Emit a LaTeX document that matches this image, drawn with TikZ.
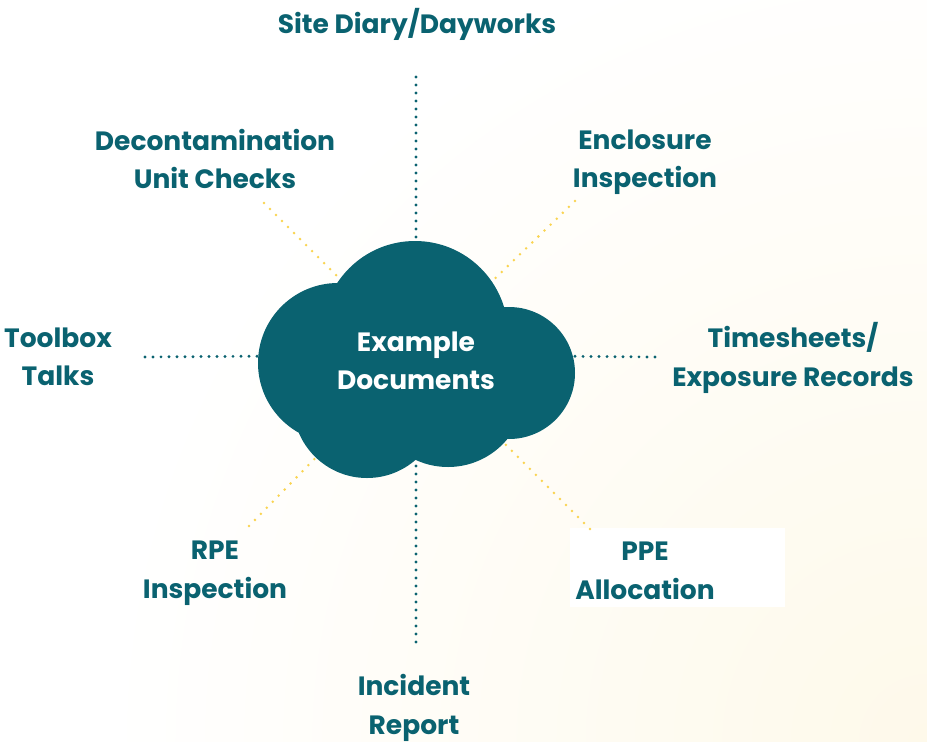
\documentclass[tikz,border=0pt]{standalone}
\usepackage{fontspec}
\setmainfont{Poppins}
\usepackage{xcolor}
\usetikzlibrary{positioning}
\definecolor{deepteal}{RGB}{10,98,112}
\definecolor{dotyellow}{RGB}{250,212,80}
\definecolor{cream}{RGB}{254,249,234}

\begin{document}
\begin{tikzpicture}[x=1pt, y=-1pt,
	itemtext/.style={text=deepteal, font=\bfseries\fontsize{26.5}{38.5}\selectfont, align=center},
	tealdots/.style={deepteal, line width=3.2pt, line cap=round, dash pattern=on 0pt off 8pt},
	golddots/.style={dotyellow, line width=2.8pt, line cap=round, dash pattern=on 0pt off 8.5pt}]
	% background
	\fill[white] (0,0) rectangle (927,742);
	\begin{scope}
		\clip (0,0) rectangle (927,742);
		\shade[inner color=cream, outer color=white] (927,742) circle (820pt);
	\end{scope}
	\fill[white] (570,528) rectangle (785,607);
	\useasboundingbox (0,0) rectangle (927,742);

	% spokes
	\coordinate (hub) at (416,355);
	\coordinate (top) at (416,77);
	\coordinate (bottom) at (416,642);
	\coordinate (left) at (145,357);
	\coordinate (right) at (655,357);
	\coordinate (ul) at (264,203);
	\coordinate (ur) at (575,201);
	\coordinate (ll) at (249,526);
	\coordinate (lr) at (590,529);
	\draw[tealdots] (top) -- (hub);
	\draw[tealdots] (bottom) -- (hub);
	\draw[tealdots] (left) -- (hub);
	\draw[tealdots] (right) -- (hub);
	\draw[golddots] (ul) -- (hub);
	\draw[golddots] (ur) -- (hub);
	\draw[golddots] (ll) -- (hub);
	\draw[golddots] (lr) -- (hub);

	% cloud
	\fill[deepteal] (415,334) circle (93pt) (338,363) circle (80pt) (509,373) circle (66pt)
		(367,404) circle (74pt) (448,390) circle (77pt);
	\node[itemtext, text=white] (docs) at (416,361) {Example\\Documents};

	% labels
	\node[itemtext] (site) at (417,24) {Site Diary/Dayworks};
	\node[itemtext] (decon) at (215,159) {Decontamination\\Unit Checks};
	\node[itemtext] (encl) at (645,162) {Enclosure\\Inspection};
	\node[itemtext] (tool) at (58,357) {Toolbox\\Talks};
	\node[itemtext] (times) at (793,358) {Timesheets/\\Exposure Records};
	\node[itemtext] (rpe) at (215,573) {RPE\\Inspection};
	\node[itemtext] (ppe) at (645,571) {PPE\\Allocation};
	\node[itemtext] (incident) at (414,708) {Incident\\Report};
\end{tikzpicture}
\end{document}
